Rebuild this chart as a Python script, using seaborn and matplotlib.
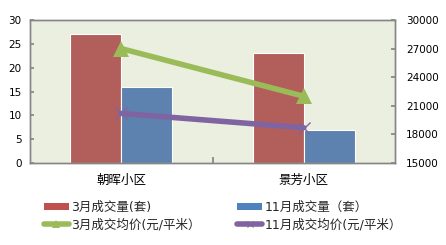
import matplotlib
matplotlib.use("Agg")
import matplotlib.pyplot as plt
import seaborn as sns
import pandas as pd
from matplotlib.patches import Patch
from matplotlib.lines import Line2D

categories = ["朝晖小区", "景芳小区"]
bar_series = ["3月成交量(套)", "11月成交量（套）"]
vol_mar = [27, 23]
vol_nov = [16, 7]
line_series = ["3月成交均价(元/平米）", "11月成交均价(元/平米）"]
price_mar = [27000, 22000]
price_nov = [20200, 18700]

sns.set_theme(style="white")
plt.rcParams["font.family"] = ["DejaVu Sans", "Noto Sans CJK SC"]

bar_colors = ["#C0504D", "#4F81BD"]
line_colors = ["#9BBB59", "#8064A2"]

df_bar = pd.DataFrame({
    "cat": categories * 2,
    "series": [bar_series[0]] * 2 + [bar_series[1]] * 2,
    "val": vol_mar + vol_nov,
})

fig = plt.figure(figsize=(4.46, 2.45), dpi=100)
ax = fig.add_axes([30 / 446, 1 - 163 / 245, 365 / 446, 143 / 245])
ax.set_facecolor("#EBEFDF")

sns.barplot(data=df_bar, x="cat", y="val", hue="series", palette=bar_colors,
            width=0.56, edgecolor="white", linewidth=0.8, legend=False, ax=ax)
ax.set_xlim(-0.5, 1.5)
ax.set_ylim(0, 30)
ax.set_yticks(range(0, 31, 5))
ax.set_xlabel("")
ax.set_ylabel("")

ax2 = ax.twinx()
df_mar = pd.DataFrame({"x": [0, 1], "y": price_mar})
df_nov = pd.DataFrame({"x": [0, 1], "y": price_nov})
sns.lineplot(data=df_mar, x="x", y="y", color=line_colors[0], linewidth=4,
             marker="^", markersize=12, markeredgewidth=0, ax=ax2)
sns.lineplot(data=df_nov, x="x", y="y", color=line_colors[1], linewidth=4,
             marker="x", markersize=9, markeredgewidth=1.0,
             markeredgecolor=line_colors[1], ax=ax2)
ax2.set_ylim(15000, 30000)
ax2.set_yticks(range(15000, 30001, 3000))
ax2.set_xlim(-0.5, 1.5)
ax2.set_xlabel("")
ax2.set_ylabel("")

ax.set_xticks([0.5])
ax.set_xticklabels([])
for i, c in enumerate(categories):
    ax.text(i, -0.12, c, transform=ax.get_xaxis_transform(), ha="center",
            va="center", fontsize=9, color="#000000")

for a in (ax, ax2):
    for s in a.spines.values():
        s.set_color("#868686")
        s.set_linewidth(1)
ax.tick_params(axis="y", direction="in", length=3, color="#868686",
               labelsize=7.5, pad=6, labelcolor="#000000", left=True)
ax.tick_params(axis="x", direction="in", length=4, color="#868686", bottom=True)
ax2.tick_params(axis="y", direction="in", length=3, color="#868686",
                labelsize=7.5, pad=8, labelcolor="#000000", right=True)

handles = [
    Patch(facecolor=bar_colors[0], edgecolor="none"),
    Line2D([], [], color=line_colors[0], linewidth=4, marker="^", markersize=6, markeredgewidth=0),
    Patch(facecolor=bar_colors[1], edgecolor="none"),
    Line2D([], [], color=line_colors[1], linewidth=4, marker="x", markersize=5,
           markeredgecolor=line_colors[1], markeredgewidth=0.8),
]
labels = [bar_series[0], line_series[0], bar_series[1], line_series[1]]
fig.legend(handles, labels, ncol=2, loc="center", bbox_to_anchor=(0.5, 0.118),
           frameon=False, fontsize=9, handlelength=2.0, handleheight=0.6,
           handletextpad=0.2, columnspacing=2.9, labelspacing=0.35)

fig.savefig("out.png", dpi=100)
